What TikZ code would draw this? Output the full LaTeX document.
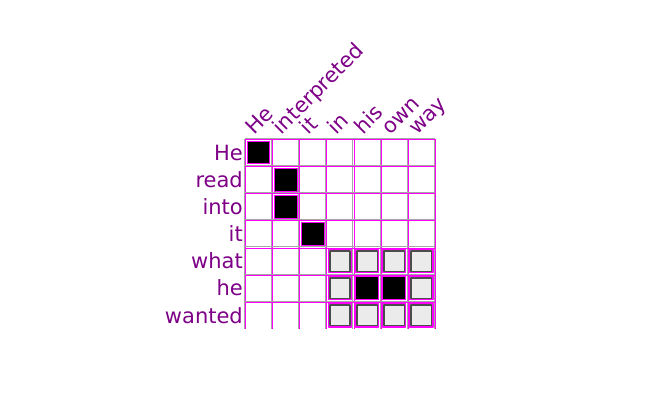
\documentclass[tikz,border=0pt]{standalone}
\usepackage{fontspec}
\setmainfont{DejaVu Sans}
\definecolor{chu}{RGB}{125,0,135}
\definecolor{hong}{RGB}{255,0,255}
\definecolor{nhat}{RGB}{235,235,235}
\begin{document}
\begin{tikzpicture}[x=1pt,y=-1pt,line join=round,
		chuhang/.style={anchor=base east,inner sep=0pt,text=chu,font=\fontsize{21}{21}\selectfont},
		chucot/.style={anchor=base west,inner sep=0pt,text=chu,rotate=45,font=\fontsize{21}{21}\selectfont},
		oden/.style={draw=hong,fill=black,line width=1pt},
		oxam/.style={draw=hong,fill=nhat,line width=1.2pt}]
		\useasboundingbox (0,0) rectangle (671,409);
		\def\o{27.14}
		% nhan cot va hang
		\foreach \i/\tu in {0/He,1/interpreted,2/it,3/in,4/his,5/own,6/way}{\node[chucot] (cot\i) at (245+\i*\o+9.5,135.5) {\tu};}
		\foreach \j/\tu in {0/He,1/read,2/into,3/it,4/what,5/he,6/wanted}{\node[chuhang] (hang\j) at (243,139+\j*\o+\o/2+7.7) {\tu};}
		% luoi
		\foreach \i in {0,...,7}{\draw[gray!70,line width=1pt] (245+\i*\o-0.6,139) -- (245+\i*\o-0.6,139+7*\o);
			\draw[hong,line width=1pt] (245+\i*\o+0.5,139) -- (245+\i*\o+0.5,139+7*\o);}
		\foreach \j in {0,...,6}{\draw[hong,line width=1pt] (245,139+\j*\o+0.5) -- (245+7*\o,139+\j*\o+0.5);
			\draw[gray!70,line width=1pt] (245,139+\j*\o-0.6) -- (245+7*\o,139+\j*\o-0.6);}
		% o xam
		\foreach \j in {4,5,6}{\foreach \i in {3,...,6}{
			\draw[oxam] (245+\i*\o+2,139+\j*\o+2) rectangle (245+\i*\o+\o-2,139+\j*\o+\o-2);
			\draw[black!70,line width=1.6pt] (245+\i*\o+3.4,139+\j*\o+3.4) rectangle (245+\i*\o+\o-3.4,139+\j*\o+\o-3.4);}}
		% o den
		\foreach \j/\i in {0/0,1/1,2/1,3/2,5/4,5/5}{\draw[oden] (245+\i*\o+2.2,139+\j*\o+2.2) rectangle (245+\i*\o+\o-2.2,139+\j*\o+\o-2.2);}
	\end{tikzpicture}
\end{document}
